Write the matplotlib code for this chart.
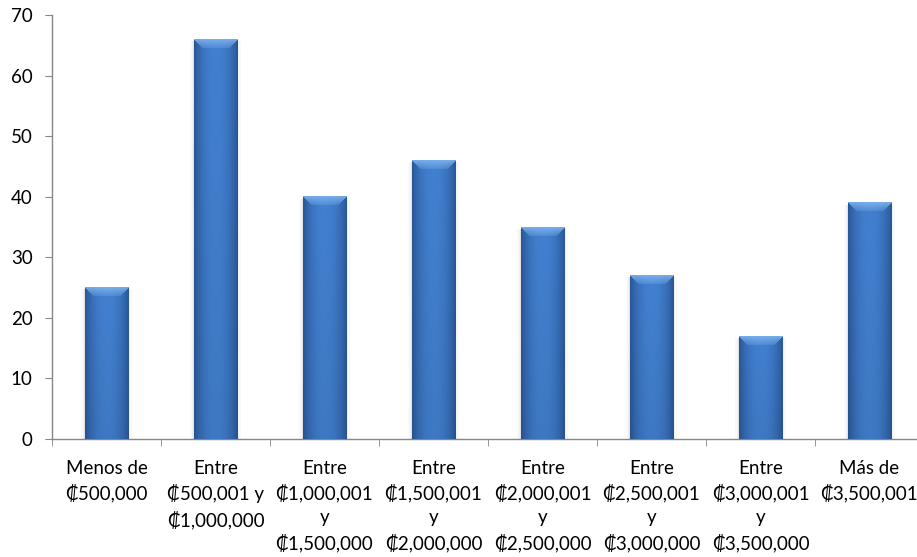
import numpy as np
import matplotlib
matplotlib.use("Agg")
import matplotlib.pyplot as plt
from matplotlib.ticker import MultipleLocator, FixedLocator

categories = [
    "Menos de\n₡500,000",
    "Entre\n₡500,001 y\n₡1,000,000",
    "Entre\n₡1,000,001\ny\n₡1,500,000",
    "Entre\n₡1,500,001\ny\n₡2,000,000",
    "Entre\n₡2,000,001\ny\n₡2,500,000",
    "Entre\n₡2,500,001\ny\n₡3,000,000",
    "Entre\n₡3,000,001\ny\n₡3,500,000",
    "Más de\n₡3,500,001",
]
values = [25, 66, 40, 46, 35, 27, 17, 39]

FONT = ["Lato", "DejaVu Sans"]
plt.rcParams["font.family"] = FONT

W_PX, H_PX, DPI = 917, 557, 100
fig = plt.figure(figsize=(W_PX / DPI, H_PX / DPI), dpi=DPI)
left, bottom, top = 52 / W_PX, (H_PX - 439) / H_PX, (H_PX - 15) / H_PX
ax = fig.add_axes([left, bottom, 872 / W_PX, top - bottom])

n = len(values)
bar_w = 0.4

edge = np.array([42, 88, 152]) / 255
center = np.array([66, 128, 208]) / 255
light = np.array([125, 178, 238]) / 255


def bar_image(w_px, h_px, bevel=9):
    j = np.arange(w_px)
    u = j / (w_px - 1)
    t = 1 - np.abs(2 * u - 1) ** 2.2
    base = edge[None, :] + (center - edge)[None, :] * t[:, None]
    img = np.repeat(base[None, :, :], h_px, axis=0).copy()
    i = np.arange(h_px)[:, None]
    dside = np.minimum(j, w_px - 1 - j)[None, :]
    topface = (i < bevel) & (i <= dside)
    f = (1 - i / bevel) * 0.7 + 0.2
    f = np.broadcast_to(f, (h_px, w_px))
    img[topface] = img[topface] * (1 - f[topface][:, None]) + light * f[topface][:, None]
    shade = 1 - 0.06 * (i / max(h_px - 1, 1))
    img = img * shade[:, :, None]
    return np.clip(img, 0, 1)


px_per_unit_y = 424 / 70
px_per_unit_x = 109
for k, v in enumerate(values):
    x0, x1 = k - bar_w / 2, k + bar_w / 2
    h_px = max(int(round(v * px_per_unit_y)), 2)
    w_px = int(round(bar_w * px_per_unit_x))
    # soft shadow along the sides
    for s, a in [(0.03, 0.025), (0.018, 0.035), (0.008, 0.05)]:
        ax.add_patch(plt.Rectangle((x0 - s, 0), bar_w + 2 * s, v - 0.3,
                                   facecolor="black", alpha=a, lw=0, zorder=2))
    ax.imshow(bar_image(w_px, h_px), extent=[x0, x1, 0, v], aspect="auto",
              interpolation="bilinear", zorder=3)

ax.set_xlim(-0.5, n - 0.5)
ax.set_ylim(0, 70)

for s in ["top", "right"]:
    ax.spines[s].set_visible(False)
for s in ["left", "bottom"]:
    ax.spines[s].set_color("#878787")
    ax.spines[s].set_linewidth(1.0)

ax.yaxis.set_major_locator(MultipleLocator(10))
ax.tick_params(axis="y", direction="out", length=5, color="#878787",
               labelsize=13.5, pad=9, labelcolor="black")
ax.xaxis.set_major_locator(FixedLocator(np.arange(n)))
ax.set_xticklabels(categories, fontsize=13.5, linespacing=1.46)
ax.xaxis.set_minor_locator(FixedLocator(np.arange(n + 1) - 0.5))
ax.tick_params(axis="x", which="major", length=0, pad=15)
ax.tick_params(axis="x", which="minor", direction="out", length=5, color="#878787")

fig.savefig("out.png", dpi=DPI)
